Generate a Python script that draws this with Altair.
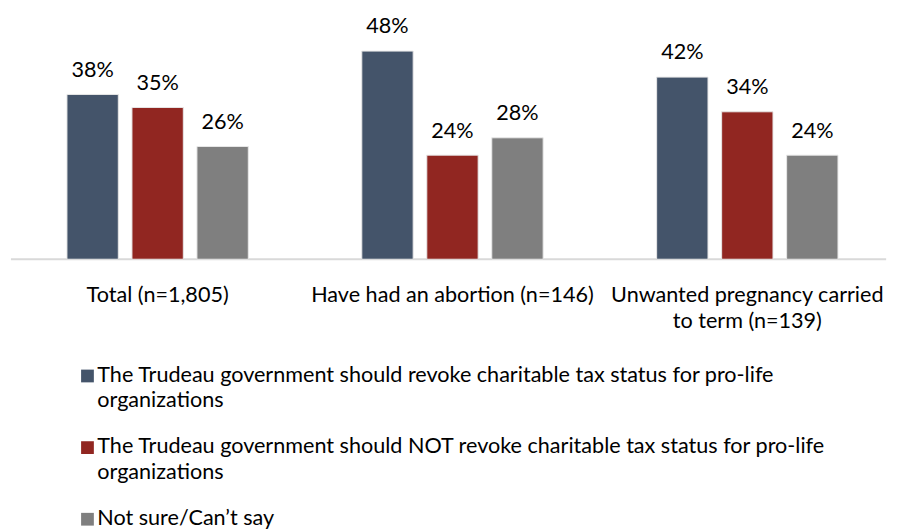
import altair as alt
import pandas as pd

groups = ["Total (n=1,805)", "Have had an abortion (n=146)", "Unwanted pregnancy carried to term (n=139)"]
series = [
    "The Trudeau government should revoke charitable tax status for pro-life organizations",
    "The Trudeau government should NOT revoke charitable tax status for pro-life organizations",
    "Not sure/Can’t say",
]
revoke = [38, 48, 42]
not_revoke = [35, 24, 34]
not_sure = [26, 28, 24]
colors = ["#44546a", "#912621", "#7f7f7f"]
legend_lines = [
    ["The Trudeau government should revoke charitable tax status for pro-life", "organizations"],
    ["The Trudeau government should NOT revoke charitable tax status for pro-life", "organizations"],
    ["Not sure/Can’t say"],
]

FONT = "Lato"
FS = 22

rows = []
for s, vals in zip(series, [revoke, not_revoke, not_sure]):
    for g, v in zip(groups, vals):
        rows.append({"group": g, "series": s, "value": v, "label": f"{v}%"})
df = pd.DataFrame(rows)

leg = pd.DataFrame({"series": series, "lines": legend_lines})

color = alt.Color("series:N", sort=series, scale=alt.Scale(domain=series, range=colors), legend=None)

W = 892
H = 251
YMAX = 56.8

x = alt.X(
    "group:N",
    sort=groups,
    scale=alt.Scale(range=[0, 900], paddingInner=0.385, paddingOuter=0.19),
    axis=alt.Axis(
        title=None, domain=False, ticks=False, labelAngle=0, labelFontSize=FS,
        labelColor="#000000", labelFont=FONT, labelPadding=26, labelBaseline="top",
        labelLineHeight=27, labelLimit=0,
        labelExpr="datum.value == 'Unwanted pregnancy carried to term (n=139)' ? ['Unwanted pregnancy carried', 'to term (n=139)'] : datum.label",
    ),
)
xo = alt.XOffset("series:N", sort=series, scale=alt.Scale(paddingInner=0.21, paddingOuter=0))
yscale = alt.Scale(domain=[0, YMAX], nice=False, zero=True)
y = alt.Y("value:Q", scale=yscale, axis=None)

base = alt.Chart(df)
bars = base.mark_bar(stroke="#e8e8e8", strokeWidth=1).encode(x=x, xOffset=xo, y=y, color=color)
labels = base.mark_text(baseline="alphabetic", dy=-18, fontSize=FS, font=FONT, color="#000000").encode(
    x=x, xOffset=xo, y=y, text="label:N"
)
baseline = alt.Chart(pd.DataFrame({"v": [0]})).mark_rule(color="#d9d9d9", strokeWidth=2).encode(
    x=alt.value(0), x2=alt.value(W), y=alt.Y("v:Q", scale=yscale, axis=None)
)

top = alt.layer(baseline, bars, labels).properties(width=W, height=H)

ly = alt.Y("series:N", sort=series, scale=alt.Scale(type="point", padding=0), axis=None)
squares = alt.Chart(leg).mark_square(size=169, opacity=1).encode(
    x=alt.value(78), y=ly, color=color
)
ltext = alt.Chart(leg).mark_text(align="left", baseline="top", dy=-11, fontSize=FS, font=FONT,
                                 color="#000000", lineHeight=26).encode(
    x=alt.value(88), y=ly, text="lines"
)
legend = alt.layer(squares, ltext).properties(width=W, height=146)

chart = alt.vconcat(top, legend, spacing=33).properties(
    padding={"left": 2, "top": 0, "right": 0, "bottom": 0}
).configure(font=FONT, view=alt.ViewConfig(stroke="transparent", strokeWidth=0))

chart.save("out.html", embed_options={"renderer": "svg", "actions": False})
